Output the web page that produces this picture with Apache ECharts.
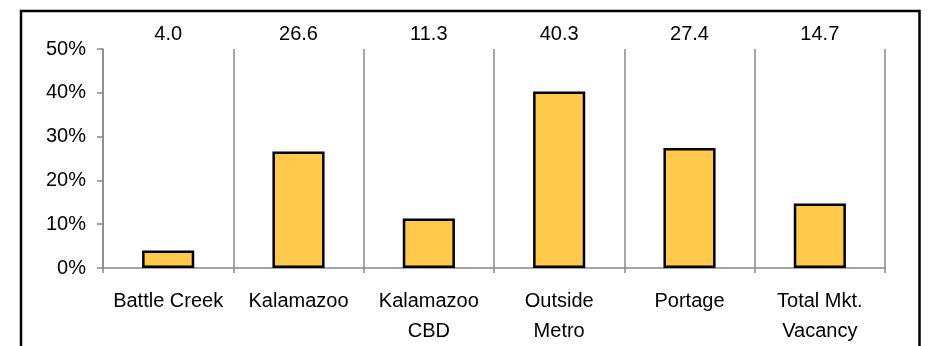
<!DOCTYPE html>
<html><head><meta charset="utf-8">
<script src="https://cdn.jsdelivr.net/npm/echarts@6/dist/echarts.min.js"></script>
<style>html,body{margin:0;padding:0;background:#fff}#c{width:930px;height:346px}</style>
</head><body><div id="c"></div>
<script>
const categories = ['Battle Creek', 'Kalamazoo', 'Kalamazoo\nCBD', 'Outside\nMetro', 'Portage', 'Total Mkt.\nVacancy'];
const vacancy = [4.0, 26.6, 11.3, 40.3, 27.4, 14.7];
const yTicks = [0, 10, 20, 30, 40, 50];

const chart = echarts.init(document.getElementById('c'), null, {renderer: 'canvas'});
const font = 'Liberation Sans, Arial, sans-serif';
chart.setOption({
  animation: false,
  backgroundColor: '#fff',
  grid: {left: 103, right: 45, top: 49, bottom: 78},
  graphic: [{
    type: 'rect', shape: {x: 21, y: 11, width: 898.5, height: 400},
    style: {fill: 'none', stroke: '#000', lineWidth: 2.5}, z: 10
  }],
  xAxis: [{
    type: 'category', data: categories, position: 'bottom',
    axisLine: {lineStyle: {color: '#888', width: 1.5}},
    axisTick: {show: true, length: 5, interval: 0, lineStyle: {color: '#888', width: 1.5}},
    splitLine: {show: true, interval: 0, lineStyle: {color: '#888', width: 1.5}},
    axisLabel: {interval: 0, color: '#000', fontFamily: font, fontSize: 20, margin: 19, lineHeight: 29.5}
  }, {
    type: 'category', data: vacancy.map(v => v.toFixed(1)), position: 'top',
    axisLine: {show: false}, axisTick: {show: false},
    axisLabel: {interval: 0, color: '#000', fontFamily: font, fontSize: 20, margin: 5}
  }],
  yAxis: {
    type: 'value', min: yTicks[0], max: yTicks[yTicks.length - 1], interval: 10,
    axisLine: {show: true, lineStyle: {color: '#888', width: 1.5}},
    axisTick: {show: true, length: 6, lineStyle: {color: '#888', width: 1.5}},
    splitLine: {show: false},
    axisLabel: {formatter: '{value}%', color: '#000', fontFamily: font, fontSize: 20, margin: 17}
  },
  series: [{
    type: 'bar', data: vacancy, xAxisIndex: 0, barWidth: '40%',
    itemStyle: {color: '#FFC94C', borderColor: '#000', borderWidth: 2.5}
  }]
});
</script></body></html>
